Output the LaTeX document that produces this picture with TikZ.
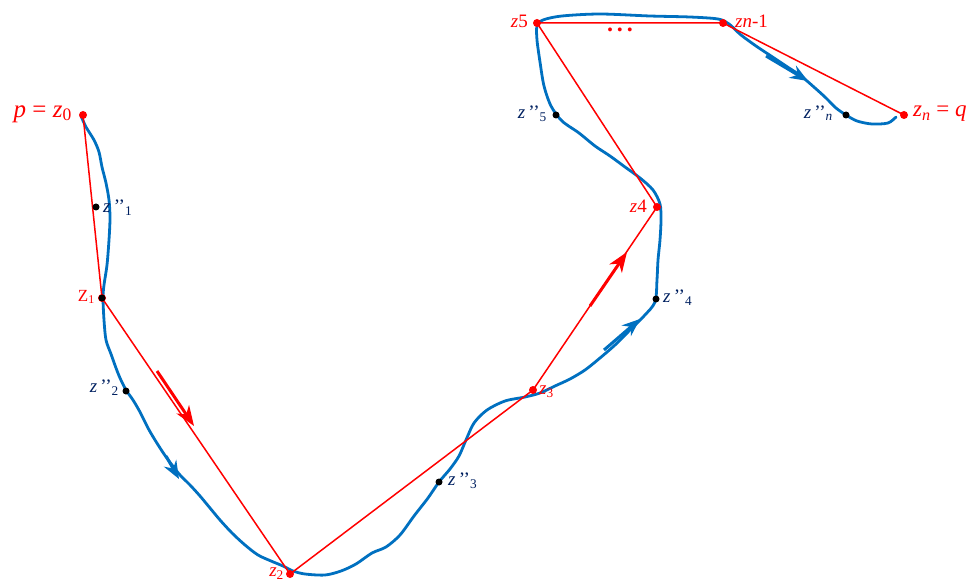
\documentclass[tikz,border=0pt]{standalone}
\usepackage{fontspec}
\setmainfont{Liberation Serif}
\usepackage{tikz}
\usetikzlibrary{arrows.meta}
\definecolor{pathblue}{RGB}{0,112,192}
\definecolor{navy}{RGB}{0,32,96}
\tikzset{
  rdot/.style={circle,fill=red,inner sep=0pt,minimum size=8pt},
  bdot/.style={circle,fill=black,inner sep=0pt,minimum size=7pt},
  rlbl/.style={text=red,inner sep=1pt,font=\fontsize{19}{19}\selectfont},
  nlbl/.style={text=navy,inner sep=1pt,font=\fontsize{19}{19}\selectfont},
  chain/.style={draw=red,line width=1.5pt,line join=round},
  curve/.style={draw=pathblue,line width=2.8pt,line cap=round,line join=round},
  rarr/.style={draw=red,line width=3pt,-{Stealth[length=20pt,width=15pt,inset=6pt]}},
  barr/.style={draw=pathblue,line width=3pt,-{Stealth[length=18pt,width=14pt,inset=6pt]}}
}
\begin{document}
\begin{tikzpicture}[x=1pt,y=-1pt]
\useasboundingbox (0,0) rectangle (969,585);
\coordinate (z0) at (83,115);
\coordinate (z1) at (102,298);
\coordinate (z2) at (290,574);
\coordinate (z3) at (533,390);
\coordinate (z4) at (657,207);
\coordinate (z5) at (537,23);
\coordinate (zm) at (723,23);
\coordinate (zn) at (904,115);
\draw[curve] plot[smooth,tension=0.5] coordinates {(81,116) (86,127) (94,140) (99,152) (102,167) (106,183) (109,200) (110,218) (109,240) (107,265) (104,285) (103,298) (104,320) (106,340) (111,354) (116,368) (120,378) (126,390) (133,400) (140,412) (148,428) (155,440) (164,454) (172,465) (180,475) (190,485) (200,496) (210,508) (220,520) (232,533) (245,545) (258,555) (271,561) (283,566) (293,571) (305,574) (325,575) (341,571) (356,564) (372,553) (386,547) (400,535) (414,516) (428,498) (439,482) (450,469) (459,456) (466,440) (474,423) (487,410) (505,401) (525,397) (540,393) (555,386) (570,379) (585,370) (600,358) (615,345) (630,330) (644,316) (655,302) (657,280) (658,260) (660,240) (661,220) (660,204) (653,190) (640,178) (625,167) (610,156) (595,146) (579,133) (562,121) (551,106) (544,86) (540,62) (537,40) (537,26) (543,20) (562,16) (600,14) (650,16) (690,17) (718,19) (729,24) (741,35) (756,46) (771,56) (786,66) (801,76) (815,88) (826,98) (836,108) (846,115) (857,121) (872,124) (888,123) (896,117)};
\draw[chain] (z0) -- (z1) -- (z2) -- (z3) -- (z4) -- (z5) -- (zm) -- (zn);
\draw[rarr] (157,371) -- (194,426);
\draw[rarr] (590,306) -- (627,252);
\draw[barr] (166,456) -- (179,479);
\draw[barr] (604,350) -- (640,319);
\draw[barr] (766,56) -- (808,81);
\foreach \p in {z0,z1,z2,z3,z4,z5,zm,zn}
  \node[rdot] (d\p) at (\p) {};
\node[bdot] (s1) at (96,207) {};
\node[bdot] (s2) at (126,391) {};
\node[bdot] (s3) at (439,482) {};
\node[bdot] (s4) at (656,299) {};
\node[bdot] (s5) at (556,115) {};
\node[bdot] (sn) at (846,115) {};
\fill[black] (z1) circle (3.5pt);
\node[rlbl,anchor=east,font=\fontsize{25}{25}\selectfont] (l0) at (73,114) {\textit{p} = \textit{z}\textsubscript{0}};
\node[rlbl,anchor=east,font=\fontsize{17}{17}\selectfont] (l1) at (96,297) {Z\textsubscript{1}};
\node[rlbl,anchor=east] (l2) at (285,574) {\textit{z}\textsubscript{2}};
\node[rlbl,anchor=west] (l3) at (538,392) {\textit{z}\textsubscript{3}};
\node[rlbl,anchor=east] (l4) at (648,206) {\textit{z}4};
\node[rlbl,anchor=east] (l5) at (529,21) {\textit{z}5};
\node[rlbl,anchor=west] (lm) at (734,21) {\textit{zn}-1};
\node[rlbl,anchor=west,font=\fontsize{23}{23}\selectfont] (ln) at (912,114) {\textit{z\textsubscript{n}} = \textit{q}};
\node[rlbl,anchor=base,font=\fontsize{24}{24}\selectfont\bfseries] (dots) at (620,32) {.\,.\,.};
\node[nlbl,anchor=west] (m1) at (102,208) {\textit{z}\,’’\textsubscript{1}};
\node[nlbl,anchor=east] (m2) at (120,388) {\textit{z}\,’’\textsubscript{2}};
\node[nlbl,anchor=west] (m3) at (447,481) {\textit{z}\,’’\textsubscript{3}};
\node[nlbl,anchor=west] (m4) at (662,298) {\textit{z}\,’’\textsubscript{4}};
\node[nlbl,anchor=east] (m5) at (548,114) {\textit{z}\,’’\textsubscript{5}};
\node[nlbl,anchor=east] (mn) at (834,113) {\textit{z}\,’’\textsubscript{\textit{n}}};
\end{tikzpicture}
\end{document}
